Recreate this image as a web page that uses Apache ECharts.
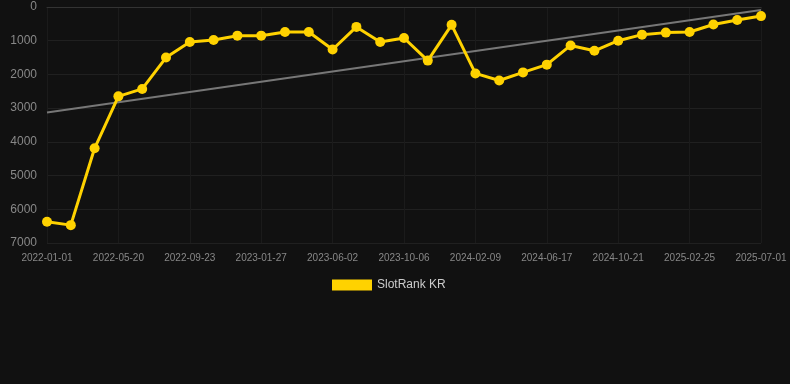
<!DOCTYPE html>
<html>
<head>
<meta charset="utf-8">
<script src="https://cdn.jsdelivr.net/npm/echarts@6/dist/echarts.min.js"></script>
<style>
html,body{margin:0;padding:0;background:#111111;}
#chart{width:790px;height:384px;}
</style>
</head>
<body>
<div id="chart"></div>
<script>
var categories = [
  '2022-01-01','2022-02-16','2022-04-03','2022-05-20','2022-07-01','2022-08-12','2022-09-23',
  '2022-11-04','2022-12-16','2023-01-27','2023-03-10','2023-04-21','2023-06-02','2023-07-14',
  '2023-08-25','2023-10-06','2023-11-17','2023-12-29','2024-02-09','2024-03-23','2024-05-05',
  '2024-06-17','2024-07-29','2024-09-09','2024-10-21','2024-12-03','2025-01-14','2025-02-25',
  '2025-04-08','2025-05-20','2025-07-01'
];
var rankValues = [
  6370, 6470, 4190, 2650, 2430, 1500, 1040, 980, 850, 850, 740, 740, 1260, 590, 1040,
  920, 1590, 530, 1970, 2180, 1940, 1710, 1140, 1300, 1000, 820, 760, 740, 520, 385, 270
];
var trendStart = 3130;
var trendEnd = 90;
var yTicks = [0, 1000, 2000, 3000, 4000, 5000, 6000, 7000];

var chart = echarts.init(document.getElementById('chart'));
chart.setOption({
  backgroundColor: '#111111',
  animation: false,
  grid: { left: 47, right: 29, top: 7, bottom: 141 },
  legend: {
    data: ['SlotRank KR'],
    top: 274,
    left: 327,
    itemWidth: 40,
    itemHeight: 11,
    icon: 'rect',
    itemGap: 10,
    textStyle: { color: '#cccccc', fontSize: 12, fontFamily: 'Arial, Liberation Sans, sans-serif' }
  },
  xAxis: {
    type: 'category',
    data: categories,
    boundaryGap: false,
    axisLine: { show: true, lineStyle: { color: '#333333' } },
    axisTick: { show: false },
    axisLabel: { interval: 2, color: '#888888', fontSize: 10, margin: 10, fontFamily: 'Arial, Liberation Sans, sans-serif' },
    splitLine: { show: true, interval: 2, lineStyle: { color: '#1b1b1b' } }
  },
  yAxis: {
    type: 'value',
    inverse: true,
    min: yTicks[0],
    max: yTicks[yTicks.length - 1],
    interval: 1000,
    axisLine: { show: false },
    axisTick: { show: false },
    axisLabel: {
      color: '#888888', fontSize: 12, margin: 10, fontFamily: 'Arial, Liberation Sans, sans-serif',
      formatter: function (v) { return String(v); }
    },
    splitLine: { show: true, lineStyle: { color: '#202020' } }
  },
  series: [
    {
      name: 'SlotRank KR',
      type: 'line',
      data: rankValues,
      color: '#FFD200',
      lineStyle: { width: 3, color: '#FFD200' },
      itemStyle: { color: '#FFD200' },
      symbol: 'circle',
      symbolSize: 10,
      z: 3
    },
    {
      name: 'trend',
      type: 'line',
      data: [[0, trendStart], [categories.length - 1, trendEnd]],
      symbol: 'none',
      lineStyle: { width: 2, color: '#777777' },
      z: 2
    }
  ]
});
</script>
</body>
</html>
